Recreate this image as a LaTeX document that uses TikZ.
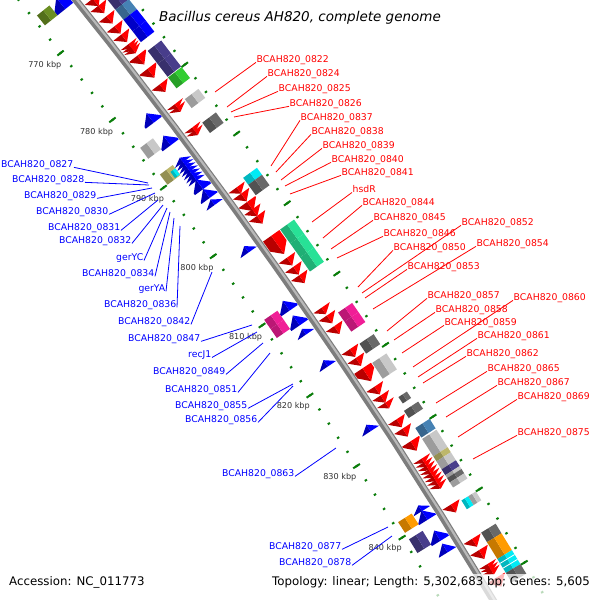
\documentclass[tikz,border=0pt]{standalone}
\usepackage{fontspec}
\setmainfont{DejaVu Sans}[ItalicFont={DejaVu Sans Oblique}]
\usepackage{tikz}
\usetikzlibrary{calc}
\definecolor{cgred}{RGB}{255,0,0}
\definecolor{cgblue}{RGB}{0,0,255}
\definecolor{slate}{RGB}{72,61,139}
\definecolor{steel}{RGB}{70,130,180}
\definecolor{lime}{RGB}{50,205,50}
\definecolor{olivec}{RGB}{107,142,35}
\definecolor{ltgrey}{RGB}{200,200,200}
\definecolor{dkgrey}{RGB}{105,105,105}
\definecolor{cyanc}{RGB}{0,235,245}
\definecolor{khakic}{RGB}{189,183,107}
\definecolor{pinkc}{RGB}{240,30,150}
\definecolor{tealc}{RGB}{40,225,150}
\definecolor{orangec}{RGB}{255,155,0}
\definecolor{tickgreen}{RGB}{10,125,10}
\definecolor{bbgrey}{RGB}{125,125,125}
\definecolor{bblight}{RGB}{185,185,185}

% angle of a position (kbp) on the map
\pgfmathdeclarefunction{kang}{1}{\pgfmathparse{0.089*#1-106.81}}

% forward CDS, reverse CDS and other features
\newcommand{\fwdarrow}[2]{%
  \pgfmathsetmacro\kh{max(#1,#2-1.15)}%
  \fill[cgred!72!black] ({kang(#1)}:5504) -- ({kang(\kh)}:5504) -- ({kang(#2)}:5514) -- ({kang(#1)}:5514) -- cycle;
  \fill[cgred] ({kang(#1)}:5514) -- ({kang(#2)}:5514) -- ({kang(\kh)}:5524) -- ({kang(#1)}:5524) -- cycle;}
\newcommand{\revarrow}[2]{%
  \pgfmathsetmacro\kh{min(#2,#1+1.15)}%
  \fill[cgblue!72!black] ({kang(#2)}:5476) -- ({kang(\kh)}:5476) -- ({kang(#1)}:5486) -- ({kang(#2)}:5486) -- cycle;
  \fill[cgblue] ({kang(#2)}:5486) -- ({kang(#1)}:5486) -- ({kang(\kh)}:5496) -- ({kang(#2)}:5496) -- cycle;}
\newcommand{\featbox}[5]{%
  \pgfmathsetmacro\rmid{(#3+#4)/2}%
  \fill[#5!78!black] ({kang(#1)}:#3) -- ({kang(#2)}:#3) -- ({kang(#2)}:\rmid) -- ({kang(#1)}:\rmid) -- cycle;
  \fill[#5] ({kang(#1)}:\rmid) -- ({kang(#2)}:\rmid) -- ({kang(#2)}:#4) -- ({kang(#1)}:#4) -- cycle;}

\begin{document}
\begin{tikzpicture}[x=1pt, y=-1pt,
  rlab/.style={text=cgred, font=\fontsize{9.3}{11}\selectfont, inner sep=0.5pt, anchor=west},
  blab/.style={text=cgblue, font=\fontsize{9.3}{11}\selectfont, inner sep=0.5pt, anchor=east},
  rline/.style={cgred, line width=0.8pt},
  bline/.style={cgblue, line width=0.8pt},
  kbpl/.style={text={rgb,255:red,50;green,50;blue,50}, font=\fontsize{8.1}{10}\selectfont, inner sep=0pt},
  tickmark/.style={tickgreen, line width=2pt}]
  \useasboundingbox (0,0) rectangle (600,600);
  \fill[white] (0,0) rectangle (600,600);
  \begin{scope}
  \clip (0,0) rectangle (600,600);
  \begin{scope}[shift={(-4221.6,3432)}]
    % ruler ticks and kbp labels
    \foreach \k in {756,758,...,862}
      \draw[tickmark] ({kang(\k)}:5454) -- ({kang(\k)}:5456.5) ({kang(\k)}:5545) -- ({kang(\k)}:5547.5);
    \foreach \k in {760,770,...,860}
      \draw[tickmark] ({kang(\k)}:5451) -- ({kang(\k)}:5459) ({kang(\k)}:5542) -- ({kang(\k)}:5550);
    \foreach \k in {770,780,...,840}
      \node[kbpl] (kb\k) at ({kang(\k)}:5435) {\k\ kbp};
    % backbone
    \draw[line width=7pt, bbgrey] plot[domain=755:865, samples=45] ({kang(\x)}:5500);
    \draw[line width=2.2pt, bblight] plot[domain=755:865, samples=45] ({kang(\x)}:5501.2);
    % forward strand
    \foreach \a/\b in {767.35/768.45, 768.4/769.5, 769.95/771.05, 771.45/772.55, 772.7/773.8,
      775.8/777.1, 777.75/779.05, 780.05/781.15, 782.95/783.6, 783.4/784.05, 786.35/787.0, 786.8/787.45,
      795.05/795.95, 795.95/797.05, 797.15/798.45, 798.2/799.2, 799.15/800.25,
      802.0/804.6, 805.15/806.25, 806.45/807.55, 807.65/808.75,
      812.25/813.15, 813.35/814.45, 814.85/815.95,
      818.1/819.2, 819.35/820.45, 820.8/822.6, 823.35/824.45, 824.6/825.6, 825.6/826.4,
      827.95/829.05, 829.25/830.35, 831.0/832.3, 839.75/840.85,
      844.45/845.55, 846.0/847.2, 849.8/851.0}
      \fwdarrow{\a}{\b};
    \foreach \k in {774.1,774.45,774.8, 833.4,833.9,834.4,834.9,835.4,835.9,836.4,836.9, 847.9,848.3,848.7}
      \fwdarrow{\k}{\k+0.65};
    \foreach \a/\b/\c in {765.0/770.0/slate, 770.0/771.5/steel, 771.5/773.2/cgblue, 773.2/774.8/cgblue,
      776.1/778.0/slate, 778.0/779.9/slate, 780.0/781.6/lime, 783.2/784.5/ltgrey, 786.6/788.1/dkgrey,
      794.6/795.6/cyanc, 795.6/797.1/dkgrey, 802.0/804.0/tealc, 804.0/806.0/tealc, 806.0/808.0/tealc,
      813.8/815.1/pinkc, 815.1/816.5/pinkc, 818.2/819.6/dkgrey, 820.9/823.1/ltgrey,
      827.6/828.6/dkgrey, 830.0/831.3/steel,
      831.5/833.9/ltgrey, 833.9/834.6/khakic, 834.6/835.7/ltgrey, 835.7/836.5/slate, 836.5/836.9/ltgrey,
      836.9/837.5/dkgrey, 837.5/838.2/ltgrey,
      844.4/845.7/dkgrey, 845.7/848.0/orangec, 848.0/849.9/cyanc, 849.9/851.2/dkgrey}
      \featbox{\a}{\b}{5525}{5542}{\c};
    \featbox{825.9}{826.8}{5528}{5538}{dkgrey}
    \featbox{840.0}{841.2}{5525}{5533}{cyanc}
    \featbox{840.0}{841.2}{5533}{5542}{ltgrey}
    \foreach \k in {848.6,849.25}
      \draw[white, line width=0.8pt] ({kang(\k)}:5525) -- ({kang(\k)}:5542);
    % reverse strand
    \foreach \a/\b in {764.6/766.3, 781.8/783.2, 785.1/786.5, 791.5/792.9, 792.9/794.2, 794.4/795.2,
      801.15/802.05, 809.0/810.4, 811.1/812.5, 813.0/813.8, 817.45/818.35, 826.55/827.45,
      837.8/838.6, 838.5/839.8, 841.3/842.7, 843.1/844.3}
      \revarrow{\a}{\b};
    \foreach \k in {788.3,788.75,789.2,789.65,790.1,790.55,791.0}
      \revarrow{\k}{\k+0.65};
    \foreach \a/\b/\c in {764.8/766.3/olivec, 784.6/786.2/ltgrey, 788.5/790.0/khakic,
      809.6/810.9/pinkc, 810.9/812.2/pinkc, 838.2/839.7/orangec, 840.6/842.5/slate}
      \featbox{\a}{\b}{5460}{5476}{\c};
    \featbox{789.0}{789.9}{5470}{5476}{cyanc}
  \end{scope}

  % right hand (forward) labels
  \foreach \id/\x/\y/\px/\py in {0822/256/60/215/92, 0824/267/74/227/107, 0825/278/89/231/112,
    0826/289/104/234/117, 0837/300/118/271/166, 0838/311/132/276/172, 0839/322/146/281/180,
    0840/331/160/285/186, 0841/341/173/290/194, 0844/362/203/323/238, 0845/373/218/331/249,
    0846/383/234/337/258, 0850/393/248/358/287, 0852/461/223/362/293, 0854/476/244/373/309,
    0853/407/267/365/298, 0857/427/296/387/331, 0858/435/310/394/340, 0859/444/323/402/353,
    0860/513/298/413/367, 0861/477/336/418/377, 0862/466/354/423/383, 0865/487/369/436/403,
    0867/497/383/446/417, 0869/517/397/458/437, 0875/517/433/473/459} {
    \coordinate (e\id) at (\px,\py);
    \node[rlab] (l\id) at (\x,\y) {BCAH820\_\id};
    \draw[rline] (l\id.base west) -- (e\id);
  }
  \coordinate (ehsdR) at (312,222);
  \node[rlab] (lhsdR) at (352,189) {hsdR};
  \draw[rline] (lhsdR.base west) -- (ehsdR);

  % left hand (reverse) labels
  \foreach \id/\x/\y/\px/\py in {0827/74/165/148/183, 0828/85/180/149/185, 0829/97/196/152/188,
    0830/109/212/155/193, 0831/121/228/158/200, 0832/132/241/163/205, 0834/155/274/170/212,
    0836/177/305/180/226, 0842/191/322/212/272, 0847/201/339/252/325, 0849/226/372/263/343,
    0851/238/390/270/353, 0855/248/406/293/384, 0856/258/420/293/386, 0863/295/474/336/448,
    0877/342/547/388/527, 0878/352/563/392/536} {
    \coordinate (e\id) at (\px,\py);
    \node[blab] (l\id) at (\x,\y) {BCAH820\_\id};
    \draw[bline] (l\id.base east) -- (e\id);
  }
  \foreach \id/\x/\y/\px/\py in {gerYC/144/258/167/208, gerYA/166/289/174/218, recJ1/212/355/257/332} {
    \coordinate (e\id) at (\px,\py);
    \node[blab] (l\id) at (\x,\y) {\id};
    \draw[bline] (l\id.base east) -- (e\id);
  }
  \end{scope}

  % title and legend
  \fill[white, opacity=0.72] (0,574) rectangle (600,600);
  \node[font=\fontsize{13.5}{16}\selectfont\itshape] (title) at (300,18) {Bacillus cereus AH820, complete genome};
  \node[font=\fontsize{11.8}{14}\selectfont, anchor=west, inner sep=0pt] (acc) at (9,582) {Accession: NC\_011773};
  \node[font=\fontsize{11.8}{14}\selectfont, anchor=east, inner sep=0pt] (topo) at (590,582) {Topology: linear; Length: 5,302,683 bp; Genes: 5,605};
\end{tikzpicture}
\end{document}
